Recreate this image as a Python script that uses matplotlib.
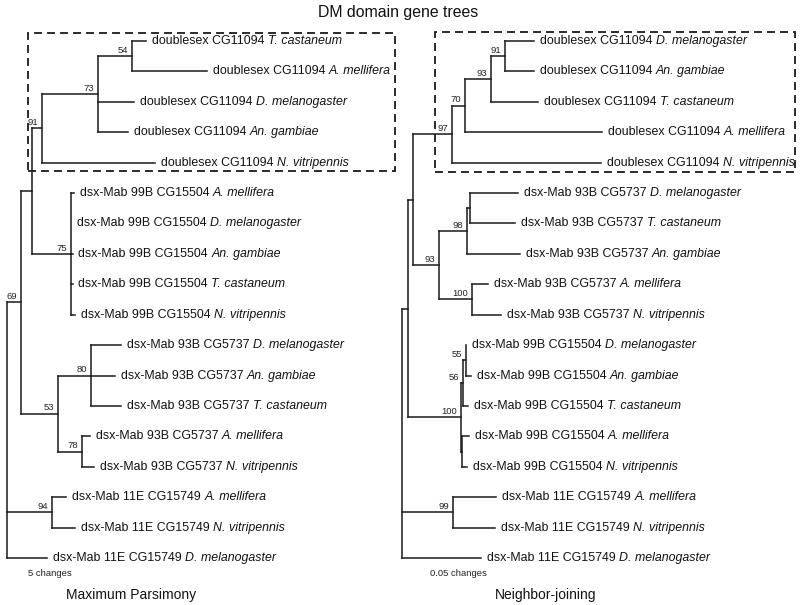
import matplotlib
matplotlib.use('Agg')
import matplotlib.pyplot as plt
from matplotlib.patches import Rectangle

plt.rcParams['font.family'] = ['Liberation Sans', 'DejaVu Sans']

# ---------------- data ----------------
title = "DM domain gene trees"

# Maximum parsimony tree (branch lengths in display units)
mp_nodes = ["root", "n69", "nX", "n91", "n73", "n54", "ds_Tc", "ds_Am", "ds_Dm", "ds_Ag", "ds_Nv",
            "n75", "b99_Am", "b99_Dm", "b99_Ag", "b99_Tc", "b99_Nv",
            "n53", "n80", "b93_Dm", "b93_Ag", "b93_Tc", "n78", "b93_Am", "b93_Nv",
            "n94", "e11_Am", "e11_Nv", "e11_Dm"]
mp_parent = [None, "root", "n69", "nX", "n91", "n73", "n54", "n54", "n73", "n73", "n91",
             "nX", "n75", "n75", "n75", "n75", "n75",
             "n69", "n53", "n80", "n80", "n80", "n53", "n78", "n78",
             "root", "n94", "n94", "root"]
mp_length = [0, 14, 11, 10, 56, 34, 14, 75, 36, 30, 113,
             39, 3, 0, 1.5, 1.5, 4,
             37, 33, 30, 24, 30, 24, 8, 12,
             45, 14, 23, 40]
mp_support = {"n69": 69, "n91": 91, "n73": 73, "n54": 54, "n75": 75,
              "n53": 53, "n80": 80, "n78": 78, "n94": 94}

# Neighbor-joining tree
nj_nodes = ["root", "r408", "r413", "r97", "r70", "r93d", "r91", "ds_Dm", "ds_Ag", "ds_Tc", "ds_Am", "ds_Nv",
            "r93", "r98", "rsub", "b93_Dm", "b93_Tc", "b93_Ag", "r100b", "b93_Am", "b93_Nv",
            "r100", "r56", "r55", "b99_Dm", "b99_Ag", "b99_Tc", "rAN", "b99_Am", "b99_Nv",
            "r99", "e11_Am", "e11_Nv", "e11_Dm"]
nj_parent = [None, "root", "r408", "r413", "r97", "r70", "r93d", "r91", "r91", "r93d", "r70", "r97",
             "r413", "r93", "r98", "rsub", "rsub", "r98", "r93", "r100b", "r100b",
             "r408", "r100", "r56", "r55", "r55", "r56", "r100", "rAN", "rAN",
             "root", "r99", "r99", "root"]
nj_length = [0, 6, 5, 39, 13, 26, 14, 29, 29, 47, 137, 149,
             26, 28, 3, 48, 45, 53, 33, 16, 29,
             53, 2, 3, 0, 5, 5, 1, 7, 5,
             51, 43, 42, 79]
nj_support = {"r97": 97, "r70": 70, "r93d": 93, "r91": 91, "r93": 93, "r98": 98,
              "r100b": 100, "r100": 100, "r56": 56, "r55": 55, "r99": 99}

# leaf labels
leaf_gene = {"ds": "doublesex CG11094", "b99": "dsx-Mab 99B CG15504",
             "b93": "dsx-Mab 93B CG5737", "e11": "dsx-Mab 11E CG15749"}
leaf_species = {"Tc": "T. castaneum", "Am": "A. mellifera", "Dm": "D. melanogaster",
                "Ag": "An. gambiae", "Nv": "N. vitripennis"}

mp_title, nj_title = "Maximum Parsimony", "Neighbor-joining"
mp_scale, nj_scale = "5 changes", "0.05 changes"

# ---------------- figure ----------------
W, H = 800, 605
fig = plt.figure(figsize=(8, 6.05), dpi=100)
ROW0, ROW_STEP = 41, 30.41
PX = 0.72  # points per pixel
LC = '#1a1a1a'


def layout(nodes, parents, lengths):
    children = {n: [] for n in nodes}
    root = None
    for n, p in zip(nodes, parents):
        if p is None:
            root = n
        else:
            children[p].append(n)
    blen = dict(zip(nodes, lengths))
    x, y, leaves = {}, {}, []

    def visit(n, x0):
        x[n] = x0
        for c in children[n]:
            visit(c, x0 + blen[c])
        if not children[n]:
            y[n] = len(leaves)
            leaves.append(n)
        else:
            y[n] = (y[children[n][0]] + y[children[n][-1]]) / 2

    visit(root, 0)
    return children, x, y, leaves


def draw_tree(ax, nodes, parents, lengths, support):
    children, x, y, leaves = layout(nodes, parents, lengths)
    kw = dict(color=LC, lw=1.1, solid_capstyle='projecting', clip_on=False)
    for n, p in zip(nodes, parents):
        if p is not None and x[n] > x[p]:
            ax.plot([x[p], x[n]], [y[n], y[n]], **kw)
        if children[n]:
            ax.plot([x[n], x[n]], [y[children[n][0]], y[children[n][-1]]], **kw)
    for n in leaves:
        g, s = n.split('_')
        t = ax.annotate(leaf_gene[g], (x[n], y[n]), xytext=(6 * PX, 0),
                        textcoords='offset points', ha='left', va='center',
                        fontsize=8.9, color='#111111')
        ax.annotate(leaf_species[s], xy=(1, 0), xycoords=t, xytext=(2.5, 0),
                    textcoords='offset points', ha='left', va='bottom',
                    fontsize=8.9, style='italic', color='#111111')
    for n, s in support.items():
        ax.annotate(str(s), (x[n], y[n]), xytext=(-4 * PX, 1.2 * PX),
                    textcoords='offset points', ha='right', va='bottom',
                    fontsize=6.8, color='#222222')


ylim = ((H - ROW0) / ROW_STEP, -ROW0 / ROW_STEP)

axL = fig.add_axes([0, 0, 0.5, 1])
axL.set_xlim(-7, 393)
axL.set_ylim(*ylim)
axL.axis('off')
draw_tree(axL, mp_nodes, mp_parent, mp_length, mp_support)

axR = fig.add_axes([0.5, 0, 0.5, 1])
axR.set_xlim(-2, 398)
axR.set_ylim(*ylim)
axR.axis('off')
draw_tree(axR, nj_nodes, nj_parent, nj_length, nj_support)

# dashed boxes around doublesex clades
for (x1, y1, x2, y2) in [(28, 33, 395, 171), (435, 32, 795, 172)]:
    fig.add_artist(Rectangle((x1 / W, 1 - y2 / H), (x2 - x1) / W, (y2 - y1) / H,
                             transform=fig.transFigure, fill=False, ec=LC,
                             lw=1.3, ls=(0, (4.4, 2.8))))

# texts
fig.text(398 / W, 1 - 12 / H, title, ha='center', va='center', fontsize=11.4, color='#111111')
fig.text(131 / W, 1 - 595 / H, mp_title, ha='center', va='center', fontsize=10, color='#111111')
fig.text(546 / W, 1 - 595 / H, nj_title, ha='center', va='center', fontsize=10, color='#111111')
fig.text(28 / W, 1 - 573 / H, mp_scale, ha='left', va='center', fontsize=6.8, color='#222222')
fig.text(430 / W, 1 - 573 / H, nj_scale, ha='left', va='center', fontsize=6.8, color='#222222')

fig.savefig('out.png', dpi=100, facecolor='white')
